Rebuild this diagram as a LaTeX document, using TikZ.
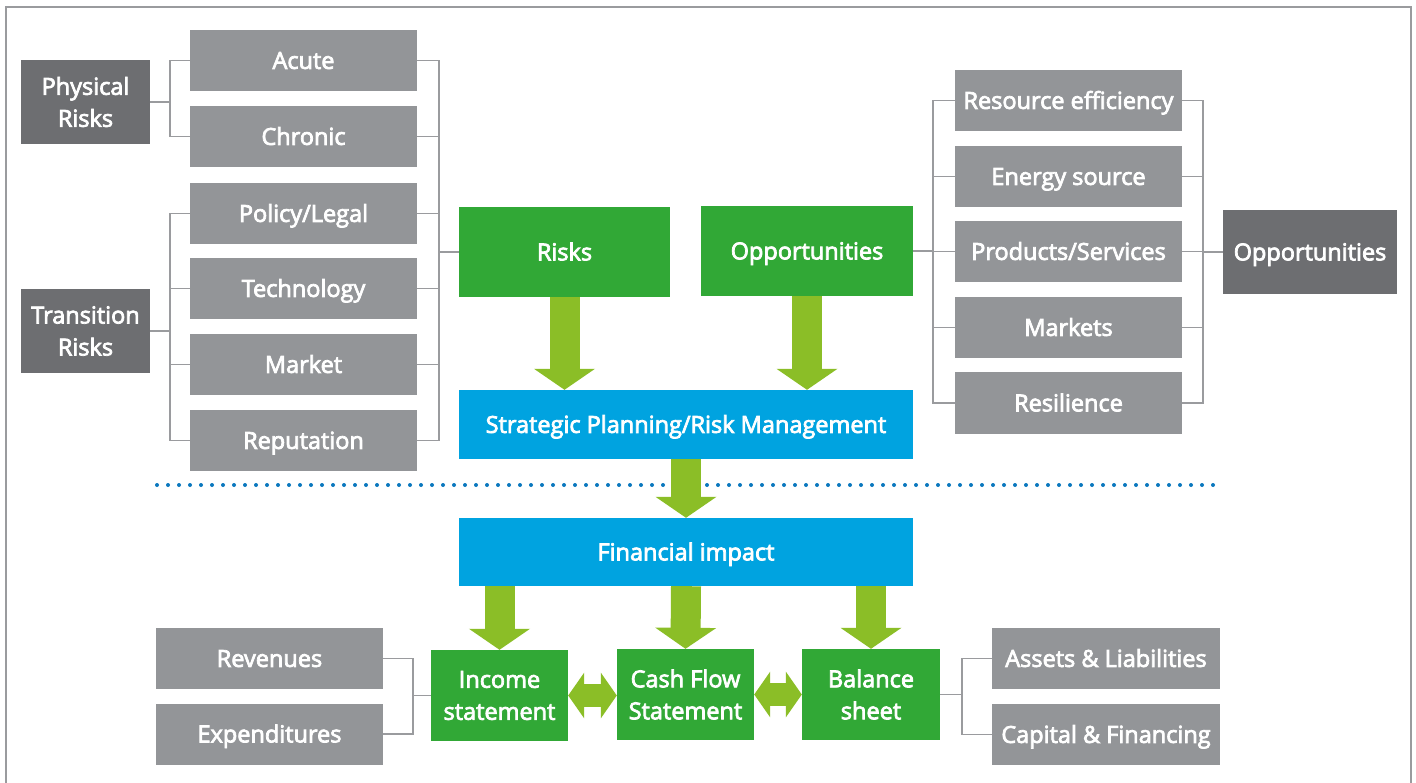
\documentclass[tikz,border=0pt]{standalone}
\usepackage{fontspec}
\setmainfont{Open Sans}
\usetikzlibrary{calc,arrows.meta}
\definecolor{boxgrey}{HTML}{939598}
\definecolor{darkgrey}{HTML}{6D6E71}
\definecolor{boxgreen}{HTML}{31A836}
\definecolor{arrgreen}{HTML}{8BBE27}
\definecolor{boxblue}{HTML}{00A3E0}
\definecolor{dotblue}{HTML}{0A78BE}
\definecolor{linegrey}{HTML}{9A9B9E}
\newcommand{\semiweight}{\special{pdf:literal direct 2 Tr 0.75 w}}
\tikzset{
  x=1pt,y=-1pt,
  basebox/.style={inner sep=0pt, text=white, align=center, font=\fontsize{23.5}{32}\selectfont\semiweight},
  oneline/.style={text height=16.8pt, text depth=0pt},
  greybox/.style={basebox, oneline, fill=boxgrey, minimum width=227, minimum height=61},
  darkbox/.style={basebox, fill=darkgrey, minimum width=129, minimum height=84},
  greenbox/.style={basebox, fill=boxgreen},
  bluebox/.style={basebox, oneline, fill=boxblue, minimum width=454},
  conn/.style={draw=linegrey, line width=1.6pt},
  bigarrow/.style={draw=arrgreen, line width=30pt, -{Triangle[width=60pt,length=21pt]}},
  dblarrow/.style={draw=arrgreen, line width=23pt, {Triangle[width=45pt,length=16pt]}-{Triangle[width=45pt,length=16pt]}},
}
\begin{document}
\begin{tikzpicture}
\useasboundingbox (0,0) rectangle (1416,783);
\fill[white] (0,0) rectangle (1416,783);
% frame
\draw[draw=linegrey, line width=1.5pt] (6,790) -- (6,7) -- (1411,7) -- (1411,790);

% left side
\node[darkbox] (phys) at (85.5,102) {Physical\\Risks};
\node[darkbox] (trans) at (85.5,331) {Transition\\Risks};
\node[greybox] (acute) at (303.5,60.5) {Acute};
\node[greybox] (chronic) at (303.5,136.5) {Chronic};
\node[greybox] (policy) at (303.5,213.5) {Policy/Legal};
\node[greybox] (tech) at (303.5,288.5) {Technology};
\node[greybox] (market) at (303.5,364.5) {Market};
\node[greybox] (reput) at (303.5,440.5) {Reputation};

% centre
\node[greenbox, oneline, minimum width=211, minimum height=90] (risks) at (564.5,252) {Risks};
\node[greenbox, oneline, minimum width=212, minimum height=90] (oppg) at (807,251) {Opportunities};
\node[bluebox, minimum height=69] (strat) at (686,424.5) {Strategic Planning/Risk Management};
\node[bluebox, minimum height=68] (fin) at (686,552) {Financial impact};

% right side
\node[greybox] (resource) at (1068.5,100.5) {Resource efficiency};
\node[greybox] (energy) at (1068.5,176.5) {Energy source};
\node[greybox] (products) at (1068.5,251.5) {Products/Services};
\node[greybox] (markets) at (1068.5,327.5) {Markets};
\node[greybox] (resil) at (1068.5,403) {Resilience};
\node[darkbox, oneline, minimum width=174] (oppd) at (1310,252) {Opportunities};

% bottom
\node[greenbox, minimum width=137, minimum height=91] (income) at (499.5,695.5) {Income\\statement};
\node[greenbox, minimum width=137, minimum height=91] (cash) at (685.5,694.5) {Cash Flow\\Statement};
\node[greenbox, minimum width=138, minimum height=91] (balance) at (871,694.5) {Balance\\sheet};
\node[greybox] (rev) at (269.5,658.5) {Revenues};
\node[greybox] (exp) at (269.5,734) {Expenditures};
\node[greybox, minimum width=228] (assets) at (1106,658.5) {Assets \& Liabilities};
\node[greybox, minimum width=228] (capital) at (1106,734.5) {Capital \& Financing};

% connectors left
\draw[conn] (acute.west) -- ++(-20,0) coordinate (lb1) |- (chronic.west);
\draw[conn] (phys.east) -- (phys.east -| lb1);
\draw[conn] (policy.west) -- ++(-20,0) coordinate (lb2) |- (reput.west);
\draw[conn] (tech.west) -- (tech.west -| lb2);
\draw[conn] (market.west) -- (market.west -| lb2);
\draw[conn] (trans.east) -- (trans.east -| lb2);
\draw[conn] (acute.east) -- ++(22,0) coordinate (rb) |- (reput.east);
\draw[conn] (chronic.east) -- (chronic.east -| rb);
\draw[conn] (policy.east) -- (policy.east -| rb);
\draw[conn] (tech.east) -- (tech.east -| rb);
\draw[conn] (market.east) -- (market.east -| rb);
\draw[conn] (risks.west) -- (risks.west -| rb);

% connectors right
\draw[conn] (resource.west) -- ++(-22,0) coordinate (ob) |- (resil.west);
\draw[conn] (energy.west) -- (energy.west -| ob);
\draw[conn] (products.west) -- (products.west -| ob);
\draw[conn] (markets.west) -- (markets.west -| ob);
\draw[conn] (oppg.east) -- (oppg.east -| ob);
\draw[conn] (resource.east) -- ++(21,0) coordinate (ob2) |- (resil.east);
\draw[conn] (energy.east) -- (energy.east -| ob2);
\draw[conn] (products.east) -- (products.east -| ob2);
\draw[conn] (markets.east) -- (markets.east -| ob2);
\draw[conn] (oppd.west) -- (oppd.west -| ob2);

% connectors bottom
\draw[conn] (rev.east) -- ++(30,0) coordinate (bb1) |- (exp.east);
\draw[conn] (income.west) -- (income.west -| bb1);
\draw[conn] (assets.west) -- ++(-30,0) coordinate (bb2) |- (capital.west);
\draw[conn] (balance.east) -- (balance.east -| bb2);

% dotted separator
\draw[draw=dotblue, line width=4pt, line cap=round, dash pattern=on 0pt off 11pt] (157,485) -- (1218,485);

% block arrows
\draw[bigarrow] (risks.south) -- (risks.south |- strat.north);
\draw[bigarrow] (oppg.south) -- (oppg.south |- strat.north);
\draw[bigarrow] (strat.south) -- (fin.north);
\draw[bigarrow] (income.north |- fin.south) -- (income.north);
\draw[bigarrow] (fin.south) -- (cash.north);
\draw[bigarrow] (balance.north |- fin.south) -- (balance.north);
\draw[dblarrow] (income.east) -- (income.east -| cash.west);
\draw[dblarrow] (cash.east) -- (balance.west);
\end{tikzpicture}
\end{document}
